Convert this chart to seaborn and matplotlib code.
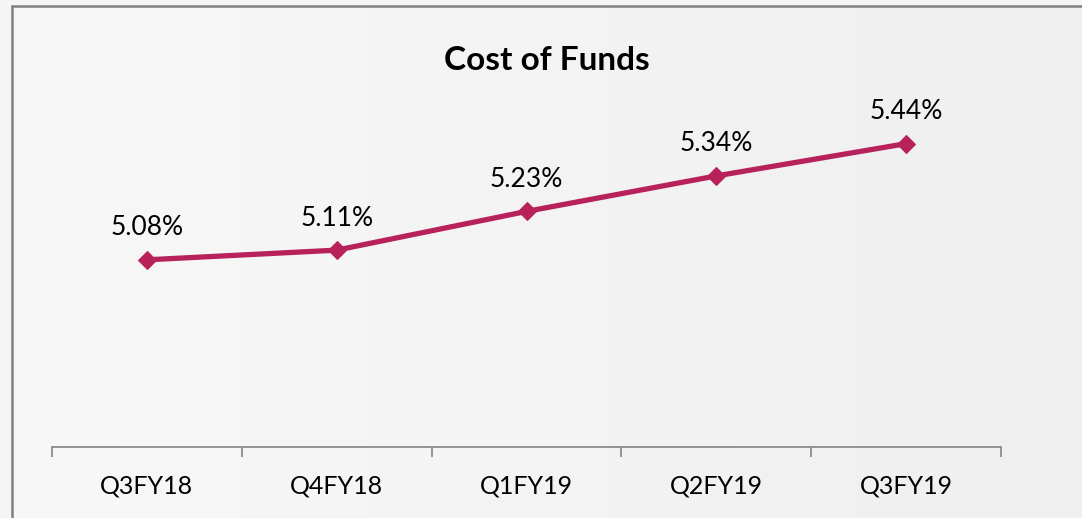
import numpy as np
import pandas as pd
import matplotlib
matplotlib.use("Agg")
import matplotlib.pyplot as plt
import seaborn as sns
from matplotlib.lines import Line2D

quarters = ["Q3FY18", "Q4FY18", "Q1FY19", "Q2FY19", "Q3FY19"]
cost_of_funds = [5.08, 5.11, 5.23, 5.34, 5.44]
value_labels = ["5.08%", "5.11%", "5.23%", "5.34%", "5.44%"]
title = "Cost of Funds"

df = pd.DataFrame({"quarter": quarters, "value": cost_of_funds})

sns.set_theme(style="white")
plt.rcParams["font.family"] = ["Lato", "DejaVu Sans"]

W, H = 1082, 518
fig = plt.figure(figsize=(W / 100, H / 100), dpi=100)
fig.patch.set_facecolor("#f5f5f5")

# gradient background inside the border
bg = fig.add_axes([11 / W, 0, 1 - 11 / W, 1 - 6 / H], zorder=0)
grad = np.linspace(0.972, 0.938, 256).reshape(1, -1)
bg.imshow(np.dstack([grad, grad, grad]), aspect="auto", extent=[0, 1, 0, 1])
bg.set_axis_off()
# border (left and top edges visible)
fig.add_artist(Line2D([12 / W, 12 / W], [0, 1 - 6 / H], color="#808080", lw=1.8, transform=fig.transFigure))
fig.add_artist(Line2D([12 / W, 1], [1 - 6 / H, 1 - 6 / H], color="#808080", lw=1.8, transform=fig.transFigure))

ax = fig.add_axes([52 / W, 1 - 447 / H, (1001 - 52) / W, (447 - 92) / H], zorder=1)
ax.patch.set_alpha(0)

color = "#B8225B"
sns.lineplot(data=df, x="quarter", y="value", ax=ax, color=color, lw=3.8,
             marker="D", markersize=9.5, markeredgecolor=color, sort=False)

ax.set_xlim(-0.5, len(quarters) - 0.5)
ax.set_ylim(4.5, 5.6)
for i, (v, lab) in enumerate(zip(cost_of_funds, value_labels)):
    ax.annotate(lab, (i, v), xytext=(0, 14), textcoords="offset points",
                ha="center", va="bottom", fontsize=19, color="#000000")

for s in ["left", "right", "top"]:
    ax.spines[s].set_visible(False)
ax.spines["bottom"].set_color("#8c8c8c")
ax.spines["bottom"].set_linewidth(1.3)
ax.set_yticks([])
ax.set_xlabel("")
ax.set_ylabel("")
ax.set_xticks(range(len(quarters)))
ax.set_xticklabels(quarters, fontsize=18, color="#000000")
ax.tick_params(axis="x", length=0, pad=20)
ax.set_xticks(np.arange(-0.5, len(quarters), 1.0), minor=True)
ax.tick_params(axis="x", which="minor", length=7, width=1.3, color="#8c8c8c", direction="out", bottom=True)

fig.text(547 / W, 1 - 60 / H, title, ha="center", va="center", fontsize=24, fontweight="bold", color="#000000")

fig.savefig("out.png", dpi=100, facecolor=fig.get_facecolor())
